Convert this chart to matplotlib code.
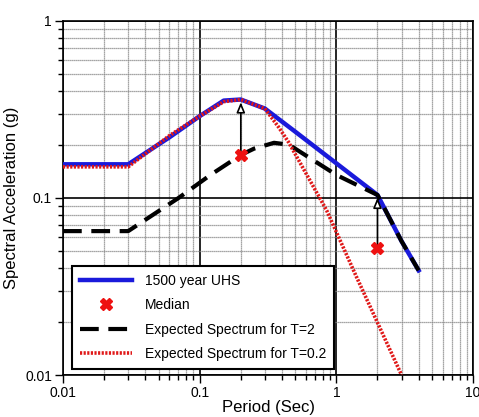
import matplotlib.pyplot as plt
import numpy as np

plt.rcParams['font.family'] = ['Liberation Sans', 'DejaVu Sans']

# 1500 year UHS
uhs_T = [0.01, 0.03, 0.06, 0.1, 0.15, 0.2, 0.3, 0.5, 1.0, 2.0, 3.0, 4.0]
uhs_sa = [0.155, 0.155, 0.22, 0.29, 0.355, 0.36, 0.32, 0.237, 0.157, 0.104, 0.057, 0.039]

# Expected spectrum for T=2
t2_T = [0.01, 0.03, 0.07, 0.12, 0.2, 0.25, 0.35, 0.45, 1.0, 2.0, 3.0, 4.0]
t2_sa = [0.065, 0.065, 0.1, 0.135, 0.175, 0.19, 0.205, 0.2, 0.135, 0.104, 0.057, 0.039]

# Expected spectrum for T=0.2
t02_T = [0.01, 0.03, 0.06, 0.1, 0.15, 0.2, 0.3, 0.38, 0.45, 0.85, 1.4, 3.0]
t02_sa = [0.15, 0.15, 0.225, 0.29, 0.35, 0.36, 0.32, 0.25, 0.205, 0.085, 0.036, 0.01]

# Median values at conditioning periods
med_T = [0.2, 2.0]
med_sa = [0.175, 0.052]
uhs_at_med = [0.36, 0.104]

fig = plt.figure(figsize=(4.79, 4.17), dpi=100)
ax = fig.add_axes([0.1315, 0.1007, 0.856, 0.849])

ax.set_xscale('log')
ax.set_yscale('log')
ax.set_xlim(0.01, 10)
ax.set_ylim(0.01, 1)

# grid: black majors, gray dotted minors
ax.grid(True, which='major', color='black', lw=1.2, ls='-')
ax.grid(True, which='minor', color='#888888', lw=0.9, ls=(0, (1, 0.6)))
ax.set_axisbelow(True)

l1, = ax.plot(uhs_T, uhs_sa, color='#1a1adb', lw=3.2, label='1500 year UHS', zorder=3)
l3, = ax.plot(t2_T, t2_sa, color='black', lw=3, ls=(0, (4.5, 2.3)),
              label='Expected Spectrum for T=2', zorder=4)
l4, = ax.plot(t02_T, t02_sa, color='#e01818', lw=2.6, ls=(0, (0.6, 0.4)),
              label='Expected Spectrum for T=0.2', zorder=5)

# arrows from median up to UHS
for t, lo, hi in zip(med_T, med_sa, uhs_at_med):
    ax.annotate('', xy=(t, hi), xytext=(t, lo),
                arrowprops=dict(arrowstyle='-|>,head_width=0.25,head_length=0.6',
                                fc='white', ec='black', lw=1.2), zorder=6)

l2, = ax.plot(med_T, med_sa, ls='none', marker='X', ms=9, color='#ee1111',
              mec='#ee1111', label='Median', zorder=7)

ax.set_xticks([0.01, 0.1, 1, 10])
ax.set_xticklabels(['0.01', '0.1', '1', '10'])
ax.set_yticks([0.01, 0.1, 1])
ax.set_yticklabels(['0.01', '0.1', '1'])
ax.tick_params(which='both', direction='out', labelsize=10)
ax.tick_params(which='major', length=6, width=1, pad=2)
ax.tick_params(which='minor', length=3.5, width=1)

ax.set_xlabel('Period (Sec)', fontsize=12, labelpad=0)
ax.set_ylabel('Spectral Acceleration (g)', fontsize=12, labelpad=4)

for s in ax.spines.values():
    s.set_linewidth(1.2)

leg = ax.legend(handles=[l1, l2, l3, l4], loc='lower left',
                bbox_to_anchor=(0.022, 0.018), borderaxespad=0, fontsize=10,
                fancybox=False, framealpha=1, edgecolor='black', borderpad=0.55,
                labelspacing=0.75, handlelength=3.8, handletextpad=0.9)
leg.get_frame().set_linewidth(1.5)

fig.savefig('out.png', dpi=100)
